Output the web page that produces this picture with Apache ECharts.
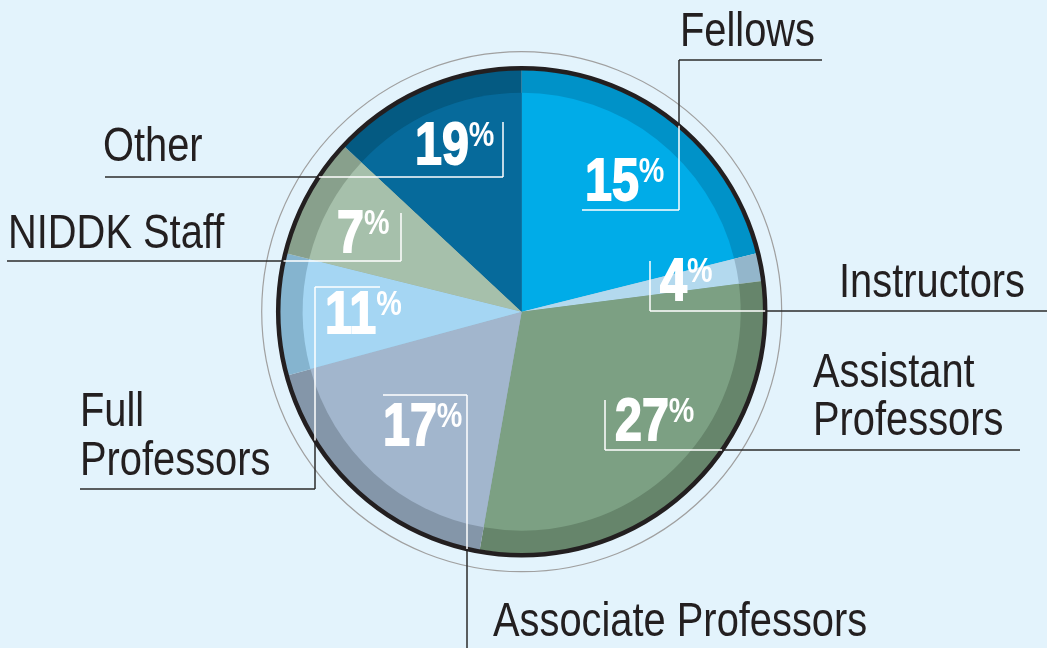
<!DOCTYPE html>
<html>
<head>
<meta charset="utf-8">
<script src="https://cdn.jsdelivr.net/npm/echarts@6/dist/echarts.min.js"></script>
<style>
  html, body { margin: 0; padding: 0; background: #E3F3FC; }
  #chart { width: 1047px; height: 648px; }
</style>
</head>
<body>
<div id="chart"></div>
<script>
// ---- data ----
const categories = ['Fellows', 'Instructors', 'Assistant Professors', 'Associate Professors', 'Full Professors', 'NIDDK Staff', 'Other'];
const percentLabels = [15, 4, 27, 17, 11, 7, 19];          // printed percentages
const sliceDegrees = [76.0, 6.7, 107.3, 64.8, 29.1, 29.1, 47.0]; // slice sizes as drawn in the picture
const innerColors = ['#00ACE8', '#B3D9EE', '#7CA083', '#A2B6CD', '#A5D6F3', '#A6C0AB', '#066A9B'];
const rimColors   = ['#0092C8', '#93B6CB', '#66856B', '#8496A9', '#85B4CF', '#88A08C', '#045A82'];

// ---- layout ----
const CX = 521.7, CY = 311.7, R_OUT = 242, R_IN = 219, R_BORDER = 243.5, R_RING = 260;
const FONT = '"Liberation Sans", Arial, sans-serif';
const NAME_SCALE = 0.83, PCT_SCALE = 0.82;
const layout = [
  { pct: [585, 160], name: { lines: ['Fellows'], x: 680, y: 33 },
    leader: [[582, 210], [679, 210], [679, 60], [822, 60]] },
  { pct: [660, 260], name: { lines: ['Instructors'], x: 839, y: 284 },
    leader: [[650, 261], [650, 311], [1047, 311]] },
  { pct: [615, 400], name: { lines: ['Assistant', 'Professors'], x: 813, y: 398, lh: 48 },
    leader: [[605, 400], [605, 450], [1020, 450]] },
  { pct: [383, 405], name: { lines: ['Associate Professors'], x: 493, y: 623 },
    leader: [[383, 395], [467, 395], [467, 650]] },
  { pct: [325, 293], name: { lines: ['Full', 'Professors'], x: 80, y: 437, lh: 49 },
    leader: [[380, 287], [315, 287], [315, 489], [80, 489]] },
  { pct: [337, 212], name: { lines: ['NIDDK Staff'], x: 8, y: 235 },
    leader: [[401, 213], [401, 261], [7, 261]] },
  { pct: [415, 124], name: { lines: ['Other'], x: 103, y: 148 },
    leader: [[503, 122], [503, 177], [105, 177]] }
];

// split a polyline into pieces inside (white) / outside (dark) the pie circle
function splitLeader(pts, r) {
  const pieces = [];
  for (let i = 0; i < pts.length - 1; i++) {
    const [x1, y1] = pts[i], [x2, y2] = pts[i + 1];
    const dx = x2 - x1, dy = y2 - y1;
    const fx = x1 - CX, fy = y1 - CY;
    const a = dx * dx + dy * dy, b = 2 * (fx * dx + fy * dy), c = fx * fx + fy * fy - r * r;
    const ts = [0, 1];
    const disc = b * b - 4 * a * c;
    if (disc > 0) {
      const s = Math.sqrt(disc);
      [(-b - s) / (2 * a), (-b + s) / (2 * a)].forEach(t => { if (t > 0 && t < 1) ts.push(t); });
    }
    ts.sort((p, q) => p - q);
    for (let k = 0; k < ts.length - 1; k++) {
      const t0 = ts[k], t1 = ts[k + 1];
      const tm = (t0 + t1) / 2;
      const mx = x1 + dx * tm - CX, my = y1 + dy * tm - CY;
      pieces.push({
        x1: x1 + dx * t0, y1: y1 + dy * t0, x2: x1 + dx * t1, y2: y1 + dy * t1,
        inside: mx * mx + my * my < r * r
      });
    }
  }
  return pieces;
}

const graphics = [];
// outer thin gray ring
graphics.push({ type: 'circle', shape: { cx: CX, cy: CY, r: R_RING }, style: { fill: 'none', stroke: '#A0A0A0', lineWidth: 1.2 }, z: 1, silent: true });
// black border
graphics.push({ type: 'circle', shape: { cx: CX, cy: CY, r: R_BORDER }, style: { fill: 'none', stroke: '#231F20', lineWidth: 4.5 }, z: 50, silent: true });

layout.forEach((L, i) => {
  splitLeader(L.leader, R_BORDER).forEach(p => {
    graphics.push({
      type: 'line', shape: { x1: p.x1, y1: p.y1, x2: p.x2, y2: p.y2 },
      style: { stroke: p.inside ? '#FFFFFF' : '#2B2B2B', lineWidth: 1.5 },
      z: p.inside ? 60 : 40, silent: true
    });
  });
  // percentage label
  graphics.push({
    type: 'text', x: L.pct[0], y: L.pct[1] - 5, scaleX: PCT_SCALE, z: 70, silent: true,
    style: {
      text: '{d|' + percentLabels[i] + '}{p|%}',
      verticalAlign: 'top', align: 'left',
      rich: {
        d: { fontSize: 59, lineHeight: 58, fontWeight: 'bold', fontFamily: FONT, fill: '#FFFFFF', stroke: '#FFFFFF', lineWidth: 1.8 },
        p: { fontSize: 35, lineHeight: 40, fontWeight: 'bold', fontFamily: FONT, fill: '#FFFFFF', verticalAlign: 'top' }
      }
    }
  });
  // category label
  graphics.push({
    type: 'text', x: L.name.x, y: L.name.y, scaleX: NAME_SCALE, z: 70, silent: true,
    style: {
      text: L.name.lines.join('\n'),
      fontSize: 48, lineHeight: L.name.lh || 48, fontFamily: FONT,
      fill: '#231F20', verticalAlign: 'middle', align: 'left'
    }
  });
});

const chart = echarts.init(document.getElementById('chart'), null, { renderer: 'canvas' });
const makeData = colors => categories.map((c, i) => ({ name: c, value: sliceDegrees[i], itemStyle: { color: colors[i] } }));
chart.setOption({
  backgroundColor: '#E3F3FC',
  animation: false,
  series: [
    {
      type: 'pie', center: [CX, CY], radius: [0, R_OUT], startAngle: 90, clockwise: true,
      silent: true, label: { show: false }, labelLine: { show: false },
      itemStyle: { borderWidth: 0 }, emphasis: { disabled: true },
      data: makeData(rimColors), z: 2
    },
    {
      type: 'pie', center: [CX, CY], radius: [0, R_IN], startAngle: 90, clockwise: true,
      silent: true, label: { show: false }, labelLine: { show: false },
      itemStyle: { borderWidth: 0 }, emphasis: { disabled: true },
      data: makeData(innerColors), z: 3
    }
  ],
  graphic: graphics
});
</script>
</body>
</html>
